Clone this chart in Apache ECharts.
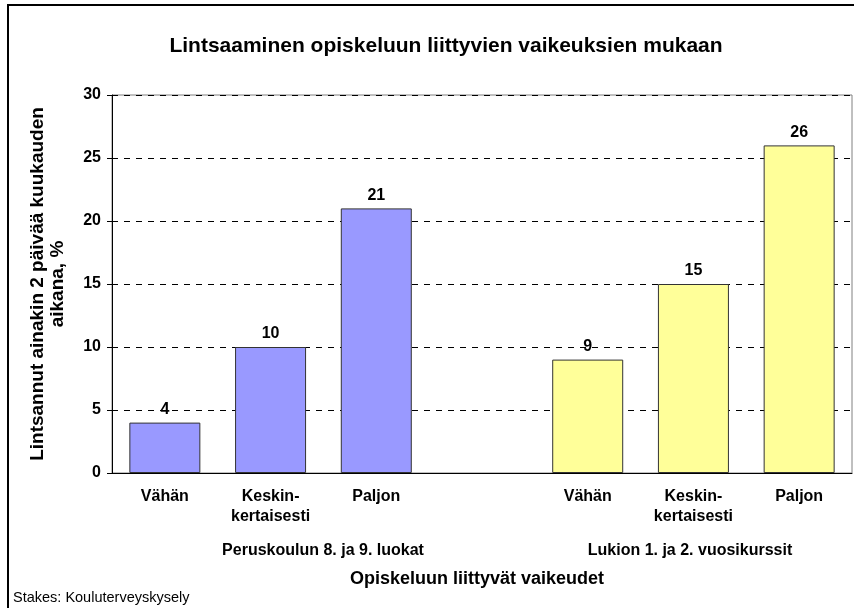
<!DOCTYPE html>
<html>
<head>
<meta charset="utf-8">
<script src="https://cdn.jsdelivr.net/npm/echarts@6/dist/echarts.min.js"></script>
<style>
  html, body { margin: 0; padding: 0; background: #fff; }
  #chart { width: 854px; height: 608px; }
</style>
</head>
<body>
<div id="chart"></div>
<script>
// luokat x-akselilla (tyhjä väli ryhmien välissä)
var categories = ['Vähän', 'Keskin-\nkertaisesti', 'Paljon', '', 'Vähän', 'Keskin-\nkertaisesti', 'Paljon']
var peruskouluValues = [4, 10, 21]      // Peruskoulun 8. ja 9. luokat
var lukioValues = [9, 15, 26]           // Lukion 1. ja 2. vuosikurssit
var groupNames = ['Peruskoulun 8. ja 9. luokat', 'Lukion 1. ja 2. vuosikurssit']
var yTicks = [0, 5, 10, 15, 20, 25, 30]

var font = 'Arial, "Liberation Sans", sans-serif'
var chart = echarts.init(document.getElementById('chart'))

// sarjat täytetään '-' arvoilla toisen ryhmän kohdalle
var dash = ['-', '-', '-']
var seriesA = peruskouluValues.concat(['-']).concat(dash)
var seriesB = dash.concat(['-']).concat(lukioValues)

var labelStyle = {
  show: true,
  position: 'top',
  distance: 5,
  color: '#000',
  fontFamily: font,
  fontWeight: 'bold',
  fontSize: 16
}

chart.setOption({
  animation: false,
  title: {
    text: 'Lintsaaminen opiskeluun liittyvien vaikeuksien mukaan',
    left: 441,
    top: 31,
    textAlign: 'center',
    textStyle: { fontFamily: font, fontWeight: 'bold', fontSize: 21, color: '#000' }
  },
  grid: {
    left: 112,
    right: 2,
    top: 95,
    bottom: 135,
    show: true,
    borderColor: '#808080',
    borderWidth: 1
  },
  xAxis: {
    type: 'category',
    data: categories,
    axisLine: { lineStyle: { color: '#000', width: 1 } },
    axisTick: { show: false },
    axisLabel: {
      interval: 0,
      color: '#000',
      fontFamily: font,
      fontWeight: 'bold',
      fontSize: 16,
      lineHeight: 20,
      margin: 14
    },
    name: 'Opiskeluun liittyvät vaikeudet',
    nameLocation: 'middle',
    nameGap: 97,
    nameTextStyle: { fontFamily: font, fontWeight: 'bold', fontSize: 18, color: '#000', padding: [0, 10, 0, 0] }
  },
  yAxis: {
    type: 'value',
    min: yTicks[0],
    max: yTicks[yTicks.length - 1],
    interval: 5,
    axisLine: { show: true, lineStyle: { color: '#000', width: 1 } },
    axisTick: { show: true, length: 5, lineStyle: { color: '#000' } },
    axisLabel: {
      color: '#000',
      fontFamily: font,
      fontWeight: 'bold',
      fontSize: 16,
      margin: 11
    },
    splitLine: { lineStyle: { color: '#000', type: [6, 6], width: 1 } },
    name: 'Lintsannut ainakin 2 päivää kuukauden\naikana, %',
    nameLocation: 'middle',
    nameGap: 44,
    nameRotate: 90,
    nameTextStyle: { fontFamily: font, fontWeight: 'bold', fontSize: 19, color: '#000', lineHeight: 20 }
  },
  series: [
    {
      type: 'bar',
      name: groupNames[0],
      data: seriesA,
      barWidth: 71,
      barGap: '-100%',
      itemStyle: { color: '#9999FF', borderColor: '#333', borderWidth: 1 },
      label: labelStyle
    },
    {
      type: 'bar',
      name: groupNames[1],
      data: seriesB,
      barWidth: 71,
      itemStyle: { color: '#FFFF99', borderColor: '#333', borderWidth: 1 },
      label: labelStyle
    }
  ],
  graphic: [
    {
      // ulkokehys
      type: 'rect',
      shape: { x: 8, y: 5, width: 900, height: 700 },
      style: { fill: 'none', stroke: '#000', lineWidth: 2 },
      silent: true
    },
    {
      type: 'text',
      x: 323,
      y: 551,
      style: { text: groupNames[0], align: 'center', verticalAlign: 'middle', fontFamily: font, fontWeight: 'bold', fontSize: 16, fill: '#000' }
    },
    {
      type: 'text',
      x: 690,
      y: 551,
      style: { text: groupNames[1], align: 'center', verticalAlign: 'middle', fontFamily: font, fontWeight: 'bold', fontSize: 16, fill: '#000' }
    },
    {
      type: 'text',
      x: 13,
      y: 598,
      style: { text: 'Stakes: Kouluterveyskysely', verticalAlign: 'middle', fontFamily: font, fontSize: 14.5, fill: '#000' }
    }
  ]
})
</script>
</body>
</html>
